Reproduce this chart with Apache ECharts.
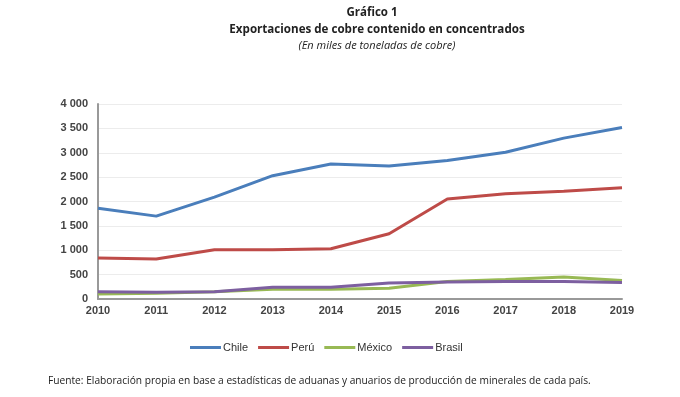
<!DOCTYPE html>
<html>
<head>
<meta charset="utf-8">
<script src="https://cdn.jsdelivr.net/npm/echarts@6/dist/echarts.min.js"></script>
<style>
  html, body { margin: 0; padding: 0; background: #fff; }
  #chart { width: 680px; height: 397px; }
</style>
</head>
<body>
<div id="chart"></div>
<script>
// datos (miles de toneladas de cobre)
var years = ['2010', '2011', '2012', '2013', '2014', '2015', '2016', '2017', '2018', '2019'];
var chile = [1860, 1700, 2090, 2530, 2770, 2730, 2840, 3010, 3300, 3520];
var peru = [840, 820, 1010, 1010, 1030, 1340, 2050, 2160, 2210, 2280];
var mexico = [100, 120, 150, 200, 200, 220, 360, 400, 450, 380];
var brasil = [150, 140, 150, 240, 240, 330, 350, 360, 360, 340];

var myChart = echarts.init(document.getElementById('chart'));

function fmt(v) {
    return String(v).replace(/\B(?=(\d{3})+(?!\d))/g, ' ');
}

function serie(name, data, color) {
    return {
        name: name,
        type: 'line',
        data: data,
        symbol: 'none',
        lineStyle: { width: 3, color: color },
        itemStyle: { color: color }
    };
}

function texto(str, x, y, size, weight, style, align) {
    return {
        type: 'text',
        x: x, y: y,
        style: {
            text: str,
            fontFamily: 'Open Sans',
            fontSize: size,
            fontWeight: weight,
            fontStyle: style,
            fill: '#222',
            align: align,
            verticalAlign: 'middle'
        }
    };
}

var option = {
    animation: false,
    graphic: [
        texto('Gráfico 1', 372, 13, 11.5, 'bold', 'normal', 'center'),
        texto('Exportaciones de cobre contenido en concentrados', 377, 30, 11.6, 'bold', 'normal', 'center'),
        texto('(En miles de toneladas de cobre)', 377, 46, 11, 'normal', 'italic', 'center'),
        texto('Fuente: Elaboración propia en base a estadísticas de aduanas y anuarios de producción de minerales de cada país.', 48, 381, 10.2, 'normal', 'normal', 'left')
    ],
    legend: {
        data: ['Chile', 'Perú', 'México', 'Brasil'],
        left: 185, top: 337,
        itemWidth: 31, itemHeight: 3, itemGap: 10,
        icon: 'rect',
        textStyle: { fontFamily: 'Liberation Sans', fontSize: 11, color: '#333', padding: [0, 0, 0, -3] }
    },
    grid: { left: 98, right: 58, top: 104, bottom: 98 },
    xAxis: {
        type: 'category',
        data: years,
        boundaryGap: false,
        axisLine: { lineStyle: { color: '#999', width: 2 } },
        axisTick: { show: false },
        axisLabel: { fontFamily: 'Liberation Sans', fontSize: 11, fontWeight: 'bold', color: '#444', margin: 6 }
    },
    yAxis: {
        type: 'value',
        min: 0, max: 4000, interval: 500,
        axisLine: { show: true, lineStyle: { color: '#999', width: 2 } },
        axisTick: { show: false },
        splitLine: { lineStyle: { color: '#ececec' } },
        axisLabel: { fontFamily: 'Liberation Sans', fontSize: 11, fontWeight: 'bold', color: '#444', margin: 10, formatter: fmt }
    },
    series: [
        serie('Chile', chile, '#4a7ebb'),
        serie('Perú', peru, '#be4b48'),
        serie('México', mexico, '#98b954'),
        serie('Brasil', brasil, '#7d5fa0')
    ]
};
myChart.setOption(option);
</script>
</body>
</html>
